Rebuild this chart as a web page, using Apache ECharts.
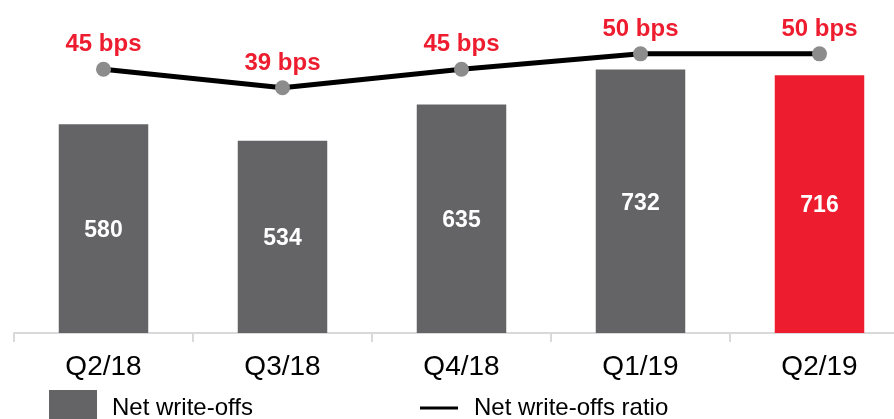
<!DOCTYPE html>
<html>
<head>
<meta charset="utf-8">
<script src="https://cdn.jsdelivr.net/npm/echarts@6/dist/echarts.min.js"></script>
<style>html,body{margin:0;padding:0;background:#fff}#c{width:894px;height:419px}</style>
</head>
<body>
<div id="c"></div>
<script>
const categories = ['Q2/18', 'Q3/18', 'Q4/18', 'Q1/19', 'Q2/19'];
const writeOffs = [580, 534, 635, 732, 716];
const ratioBps = [45, 39, 45, 50, 50];
const barColors = ['#646466', '#646466', '#646466', '#646466', '#ED1C2E'];

const FONT = "'Liberation Sans', Arial, sans-serif";
const chart = echarts.init(document.getElementById('c'), null, {renderer: 'canvas'});
chart.setOption({
  animation: false,
  backgroundColor: '#fff',
  grid: {left: 14, width: 895, top: 45, height: 288, containLabel: false, outerBoundsMode: 'none'},
  legend: [
    {
      data: [{name: 'Net write-offs', icon: 'rect'}],
      left: 49, top: 390, padding: 0, itemWidth: 48, itemHeight: 36,
      textStyle: {fontFamily: FONT, fontSize: 24, color: '#000', padding: [0, 0, 0, 10]},
      selectedMode: false
    },
    {
      data: [{name: 'Net write-offs ratio', icon: 'rect', itemStyle: {color: '#000'}}],
      left: 420, top: 396, padding: 0, itemWidth: 38, itemHeight: 3,
      textStyle: {fontFamily: FONT, fontSize: 24, color: '#000', padding: [0, 0, 0, 11]},
      selectedMode: false
    }
  ],
  xAxis: {
    type: 'category',
    data: categories,
    boundaryGap: true,
    axisLine: {lineStyle: {color: '#D9D9D9', width: 2}},
    axisTick: {show: true, length: 9, lineStyle: {color: '#D9D9D9', width: 2}},
    axisLabel: {fontFamily: FONT, fontSize: 28, color: '#000', margin: 20}
  },
  yAxis: [
    {type: 'value', min: 0, max: 800, show: false, splitLine: {show: false}},
    {type: 'value', min: -40.57, max: 52.87, show: false, splitLine: {show: false}}
  ],
  series: [
    {
      name: 'Net write-offs',
      type: 'bar',
      barWidth: '50%',
      itemStyle: {color: '#646466'},
      data: writeOffs.map((v, i) => ({value: v, itemStyle: {color: barColors[i]}})),
      label: {show: true, position: 'inside', offset: [0, 2], color: '#fff', fontFamily: FONT, fontWeight: 'bold', fontSize: 23}
    },
    {
      name: 'Net write-offs ratio',
      type: 'line',
      yAxisIndex: 1,
      data: ratioBps,
      symbol: 'circle',
      symbolSize: 15,
      lineStyle: {color: '#000', width: 5},
      itemStyle: {color: '#8C8C8C'},
      z: 5,
      label: {show: true, position: 'top', distance: 5, color: '#ED1C2E', fontFamily: FONT, fontWeight: 'bold', fontSize: 24, formatter: '{c} bps'}
    }
  ]
});
</script>
</body>
</html>
